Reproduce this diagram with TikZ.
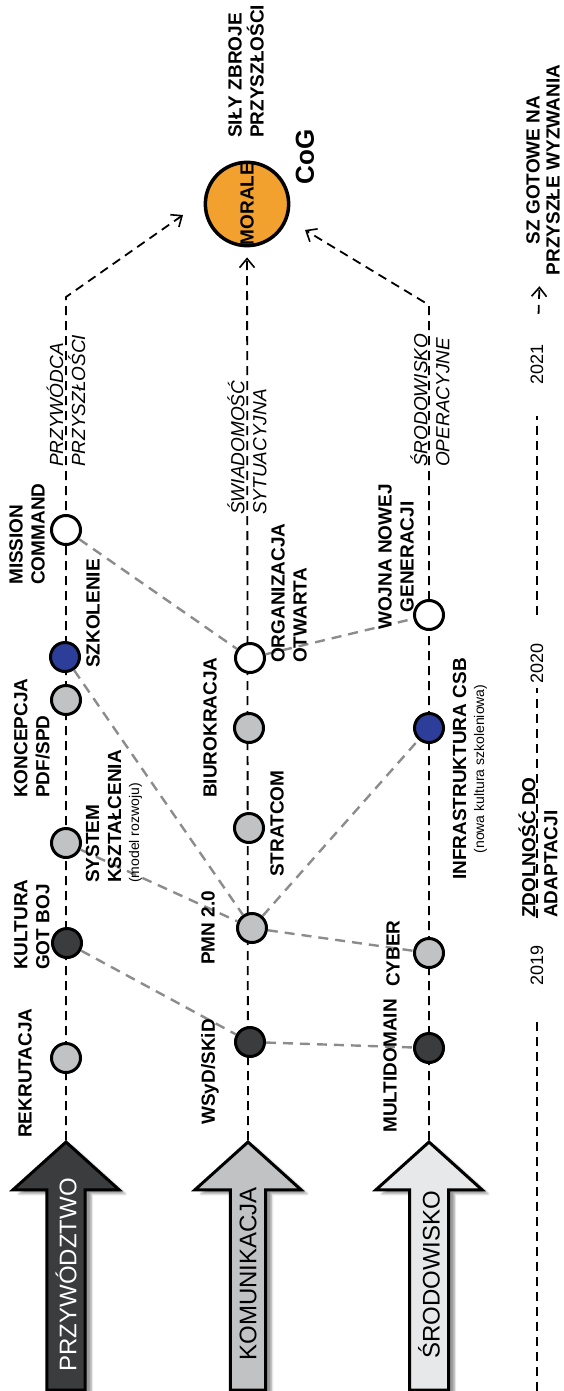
\documentclass[tikz,border=0pt]{standalone}
\usepackage{fontspec}
\setmainfont{Liberation Sans}
\usetikzlibrary{shapes.arrows,arrows.meta,shadows.blur}

\definecolor{dgray}{HTML}{3B3C3E}
\definecolor{lgray}{HTML}{C1C2C4}
\definecolor{pgray}{HTML}{E7E8E9}
\definecolor{nblue}{HTML}{2D3D9A}
\definecolor{morange}{HTML}{F3A12E}
\definecolor{linkgray}{HTML}{8C8C8C}

\tikzset{
  dot/.style={circle, draw, line width=3pt, minimum size=29pt, inner sep=0pt},
  lbl/.style={rotate=90, anchor=west, inner sep=0pt, align=left, font=\bfseries\fontsize{19}{22}\selectfont},
  goal/.style={rotate=90, anchor=west, inner sep=0pt, align=left, font=\itshape\fontsize{19}{22}\selectfont},
  year/.style={rotate=90, inner sep=2pt, font=\fontsize{18}{22}\selectfont},
  lane/.style={line width=1.8pt, dash pattern=on 9pt off 6pt},
  openhead/.style={-{Straight Barb[length=9pt,width=15pt,line width=1.6pt]}},
  link/.style={linkgray, line width=2.4pt, dash pattern=on 10pt off 7pt},
  pillar/.style={single arrow, rotate=90, anchor=tip, draw, line width=3pt,
    minimum height=248pt, minimum width=106pt, single arrow head extend=27pt,
    single arrow tip angle=96, font=\fontsize{24}{28}\selectfont,
    blur shadow={shadow xshift=6pt, shadow yshift=-4pt, shadow blur steps=6}},
}

\begin{document}
\begin{tikzpicture}[x=1pt, y=-1pt]
  \useasboundingbox (0,0) rectangle (564,1391);

  % pillars
  \draw
    (66,1140) node[pillar, fill=dgray, text=white] (przyw) {PRZYWÓDZTWO}
    (248,1140) node[pillar, fill=lgray] (komun) {KOMUNIKACJA}
    (429,1140) node[pillar, fill=pgray] (srod) {ŚRODOWISKO};

  \node[circle, draw, line width=3.5pt, fill=morange, minimum size=80pt, inner sep=0pt,
    rotate=90, font=\bfseries\fontsize{19}{22}\selectfont] (morale) at (247,204) {MORALE};
  \node[rotate=90, font=\bfseries\fontsize{26}{30}\selectfont] (cog) at (305,157) {CoG};

  % lanes
  \coordinate (przyw-k) at (66,297);
  \coordinate (przyw-e) at (183,215);
  \coordinate (srod-k) at (429,305);
  \coordinate (srod-e) at (305,230);
  \draw[lane, openhead] (przyw.tip) -- (przyw-k) -- (przyw-e);
  \draw[lane, openhead, shorten >=10pt] (komun.tip) -- (morale);
  \draw[lane, openhead] (srod.tip) -- (srod-k) -- (srod-e);

  % milestones
  \draw
    (66,1058) node[dot, fill=lgray] (rek) {}
    (67,943) node[dot, fill=dgray] (kul) {}
    (66,843) node[dot, fill=lgray] (sys) {}
    (66,700) node[dot, fill=lgray] (kon) {}
    (65,657) node[dot, fill=nblue] (szk) {}
    (66,530) node[dot, fill=white] (mis) {}
    (250,1042) node[dot, fill=dgray] (wsyd) {}
    (252,928) node[dot, fill=lgray] (pmn) {}
    (249,828) node[dot, fill=lgray] (str) {}
    (249,728) node[dot, fill=lgray] (biu) {}
    (250,658) node[dot, fill=white] (org) {}
    (429,1048) node[dot, fill=dgray] (mul) {}
    (429,953) node[dot, fill=lgray] (cyb) {}
    (429,728) node[dot, fill=nblue] (inf) {}
    (429,615) node[dot, fill=white] (woj) {};

  \begin{scope}[link]
    \draw (kul) to (wsyd);
    \draw (wsyd) to (mul);
    \draw (sys) to (pmn);
    \draw (szk) to (pmn);
    \draw (pmn) to (inf);
    \draw (pmn) to (cyb);
    \draw (mis) to (org);
    \draw (org) to (woj);
  \end{scope}

  % labels
  \node[lbl] (lrek) at (25,1138) {REKRUTACJA};
  \node[lbl] (lkul) at (32,970) {KULTURA\\GOT BOJ};
  \node[lbl] (lsys) at (114,883) {SYSTEM\\KSZTAŁCENIA\\[-4pt]{\mdseries\fontsize{14}{16}\selectfont(model rozwoju)}};
  \node[lbl] (lkon) at (32,798) {KONCEPCJA\\PDF/SPD};
  \node[lbl] (lszk) at (93,668) {SZKOLENIE};
  \node[lbl] (lmis) at (27,585) {MISSION\\COMMAND};
  \node[goal] (gprz) at (66,467) {PRZYWÓDCA\\PRZYSZŁOŚCI};

  \node[lbl] (lwsyd) at (210,1125) {WSyD/SKiD};
  \node[lbl] (lpmn) at (208,965) {PMN 2.0};
  \node[lbl] (lstr) at (277,877) {STRATCOM};
  \node[lbl] (lbiu) at (210,798) {BIUROKRACJA};
  \node[lbl] (lorg) at (289,663) {ORGANIZACJA\\OTWARTA};
  \node[goal] (gswi) at (247,515) {ŚWIADOMOŚĆ\\SYTUACYJNA};

  \node[lbl] (lmul) at (390,1133) {MULTIDOMAIN};
  \node[lbl] (lcyb) at (393,987) {CYBER};
  \node[lbl, align=center] (linf) at (470,880) {INFRASTRUKTURA CSB\\[-4pt]{\mdseries\fontsize{14}{16}\selectfont(nowa kultura szkoleniowa)}};
  \node[lbl, align=center] (lwoj) at (396,630) {WOJNA NOWEJ\\GENERACJI};
  \node[goal] (gsro) at (430,467) {ŚRODOWISKO\\OPERACYJNE};

  \node[lbl] (lsily) at (246,138) {SIŁY ZBROJE\\PRZYSZŁOŚCI};

  % timeline
  \coordinate (tl-bot) at (537,1391);
  \draw
    (537,965) node[year] (y2019) {2019}
    (537,663) node[year] (y2020) {2020}
    (537,364) node[year] (y2021) {2021};
  \node[lbl] (lzdol) at (538,918) {ZDOLNOŚĆ DO\\ADAPTACJI};
  \node[lbl, anchor=center, align=center, font=\bfseries\fontsize{19}{20}\selectfont] (szgot) at (543,170) {SZ GOTOWE NA\\PRZYSZŁE WYZWANIA};
  \draw[lane, shorten >=30pt] (tl-bot) -- (y2019);
  \draw[lane, shorten <=25pt, shorten >=3pt] (y2019) -- (y2020);
  \draw[lane, shorten <=26pt, shorten >=30pt] (y2020) -- (y2021);
  \draw[lane, openhead, shorten <=28pt, shorten >=11pt] (y2021) -- (szgot);
\end{tikzpicture}
\end{document}
